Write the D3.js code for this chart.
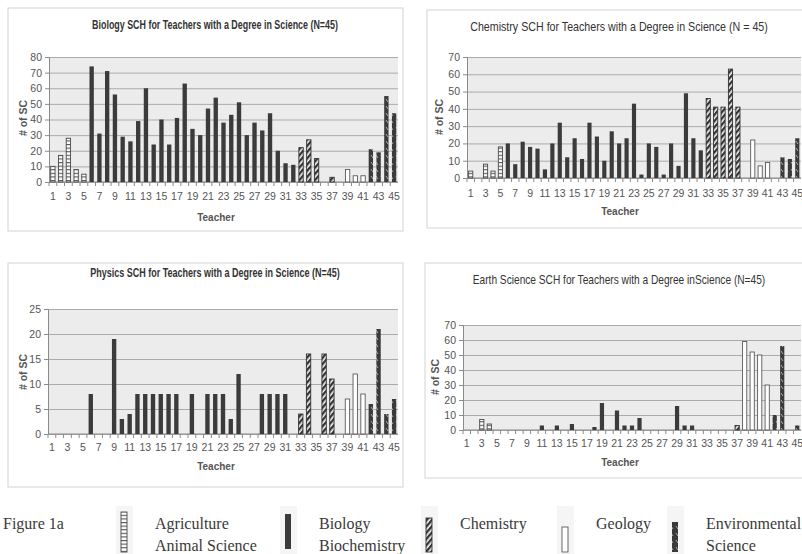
<!DOCTYPE html>
<html>
<head>
<meta charset="utf-8">
<script src="https://cdn.jsdelivr.net/npm/d3@7"></script>
<style>
  html, body { margin: 0; padding: 0; background: #fff; }
  svg { display: block; font-family: "Liberation Sans", Arial, sans-serif; }
</style>
</head>
<body>
<div id="chart"></div>
<script>
// teachers 1..45 and their degree group
const teachers = [1,2,3,4,5,6,7,8,9,10,11,12,13,14,15,16,17,18,19,20,21,22,23,24,25,26,27,28,29,30,31,32,33,34,35,36,37,38,39,40,41,42,43,44,45];
const degree = ["ag","ag","ag","ag","ag",
  "bio","bio","bio","bio","bio","bio","bio","bio","bio","bio","bio","bio","bio","bio","bio","bio","bio","bio","bio","bio","bio","bio","bio","bio","bio","bio","bio",
  "chem","chem","chem","chem","chem",
  "geo","geo","geo","geo",
  "env","env","env","env"];
const xLabels = [1,3,5,7,9,11,13,15,17,19,21,23,25,27,29,31,33,35,37,39,41,43,45];

// semester credit hours per teacher
const biologySCH   = [10,17,28,8,5, 74,31,71,56,29, 26,39,60,24,40, 24,41,63,34,30, 47,54,38,43,51, 30,38,33,44,20, 12,11,22,27,15, 0,3,0,8,4, 4,21,19,55,44];
const chemistrySCH = [4,0,8,4,18, 20,8,21,18,17, 5,20,32,12,23, 11,32,24,10,27, 20,23,43,2,20, 18,2,20,7,49, 23,16,46,41,41, 63,41,0,22,7, 9,0,12,11,23];
const physicsSCH   = [0,0,0,0,0, 8,0,0,19,3, 4,8,8,8,8, 8,8,0,8,0, 8,8,8,3,12, 0,0,8,8,8, 8,0,4,16,0, 16,11,0,7,12, 8,6,21,4,7];
const earthSCH     = [0,0,7,4,0, 0,0,0,0,0, 3,0,3,0,4, 0,0,2,18,0, 13,3,3,8,0, 0,0,0,16,3, 3,0,0,0,0, 0,3,59,52,50, 30,10,56,0,3];

const ticks80 = [0,10,20,30,40,50,60,70,80];
const ticks70 = [0,10,20,30,40,50,60,70];
const ticks25 = [0,5,10,15,20,25];

const legendItems = [
  { key: "ag",   lines: ["Agriculture", "Animal Science"] },
  { key: "bio",  lines: ["Biology", "Biochemistry"] },
  { key: "chem", lines: ["Chemistry"] },
  { key: "geo",  lines: ["Geology"] },
  { key: "env",  lines: ["Environmental", "Science"] }
];

const width = 802, height = 554;
const svg = d3.select("#chart").append("svg")
  .attr("width", width)
  .attr("height", height);

// bar patterns
const defs = svg.append("defs");
const ag = defs.append("pattern").attr("id", "p-ag")
  .attr("patternUnits", "userSpaceOnUse").attr("width", 6).attr("height", 3.6);
ag.append("rect").attr("width", 6).attr("height", 3.6).attr("fill", "#fff");
ag.append("rect").attr("width", 6).attr("height", 1.1).attr("fill", "#555");

const chem = defs.append("pattern").attr("id", "p-chem")
  .attr("patternUnits", "userSpaceOnUse").attr("width", 4).attr("height", 4)
  .attr("patternTransform", "rotate(40)");
chem.append("rect").attr("width", 4).attr("height", 4).attr("fill", "#f4f4f4");
chem.append("rect").attr("width", 2.3).attr("height", 4).attr("fill", "#333");

const env = defs.append("pattern").attr("id", "p-env")
  .attr("patternUnits", "userSpaceOnUse").attr("width", 5).attr("height", 7);
env.append("rect").attr("width", 5).attr("height", 7).attr("fill", "#3a3a3a");
env.append("line").attr("x1", 1).attr("y1", 1).attr("x2", 3).attr("y2", 4)
  .attr("stroke", "#b5b5b5").attr("stroke-width", 0.9);

const fillFor = {
  ag: "url(#p-ag)", bio: "#3b3b3b", chem: "url(#p-chem)", geo: "#ffffff", env: "url(#p-env)"
};
const strokeFor = { ag: "#4a4a4a", bio: "none", chem: "#333", geo: "#5a5a5a", env: "none" };

const panels = [
  { title: "Biology SCH for Teachers with a Degree in Science (N=45)", bold: true, titleW: 246, titleX: 215,
    values: biologySCH, ticks: ticks80, box: [8, 8, 395, 223],
    left: 49, right: 398, top: 57, bottom: 182, titleY: 29, yLabX: 27, yLabY: 118, xLabY: 200, teacherY: 221 },
  { title: "Chemistry SCH for Teachers with a Degree in Science (N = 45)", bold: false, titleW: 298, titleX: 619,
    values: chemistrySCH, ticks: ticks70, box: [427, 10, 420, 218],
    left: 467, right: 801, top: 57, bottom: 178, titleY: 31, yLabX: 443, yLabY: 117, xLabY: 197, teacherY: 215 },
  { title: "Physics SCH for Teachers with a Degree in Science (N=45)", bold: true, titleW: 250, titleX: 215,
    values: physicsSCH, ticks: ticks25, box: [8, 263, 395, 224],
    left: 48, right: 398, top: 309, bottom: 434, titleY: 277, yLabX: 27, yLabY: 372, xLabY: 451, teacherY: 470 },
  { title: "Earth Science SCH for Teachers with a Degree inScience (N=45)", bold: false, titleW: 293, titleX: 619,
    values: earthSCH, ticks: ticks70, box: [425, 263, 420, 215],
    left: 463, right: 801, top: 325, bottom: 430, titleY: 284, yLabX: 439, yLabY: 377, xLabY: 447, teacherY: 466 }
];

panels.forEach(p => {
  const g = svg.append("g");
  const data = teachers.map((t, i) => ({ t: t, v: p.values[i], k: degree[i] }));

  g.append("rect")
    .attr("x", p.box[0]).attr("y", p.box[1])
    .attr("width", p.box[2]).attr("height", p.box[3])
    .attr("fill", "#fff").attr("stroke", "#d4d4d4");

  const x = d3.scaleBand().domain(teachers)
    .range([p.left, p.right]).paddingInner(0.44).paddingOuter(0.22);
  const y = d3.scaleLinear().domain([0, d3.max(p.ticks)]).range([p.bottom, p.top]);

  // plot area
  g.append("rect")
    .attr("x", p.left).attr("y", p.top)
    .attr("width", p.right - p.left).attr("height", p.bottom - p.top)
    .attr("fill", "#ececec");

  // grid
  g.append("g")
    .attr("transform", `translate(${p.left},0)`)
    .call(d3.axisLeft(y).tickValues(p.ticks).tickSize(-(p.right - p.left)).tickFormat(""))
    .call(s => s.select(".domain").remove())
    .selectAll("line").attr("stroke", "#ababab");

  // y axis
  const ya = g.append("g")
    .attr("transform", `translate(${p.left},0)`)
    .call(d3.axisLeft(y).tickValues(p.ticks).tickSize(4).tickPadding(3));
  ya.select(".domain").attr("stroke", "#8a8a8a");
  ya.selectAll(".tick line").attr("stroke", "#8a8a8a");
  ya.selectAll("text").attr("fill", "#555").attr("font-size", "10.5px")
    .attr("font-family", "Liberation Sans, Arial, sans-serif");

  // x baseline + tick marks between categories
  g.append("line")
    .attr("x1", p.left).attr("x2", p.right)
    .attr("y1", y(0)).attr("y2", y(0))
    .attr("stroke", "#8a8a8a");
  g.selectAll(".xtick").data(teachers).join("line")
    .attr("x1", d => x(d) + x.bandwidth() / 2 - x.step() / 2)
    .attr("x2", d => x(d) + x.bandwidth() / 2 - x.step() / 2)
    .attr("y1", y(0)).attr("y2", y(0) + 4)
    .attr("stroke", "#8a8a8a");

  g.selectAll(".xlab").data(xLabels).join("text")
    .attr("x", d => x(d) + x.bandwidth() / 2)
    .attr("y", p.xLabY)
    .attr("text-anchor", "middle")
    .attr("font-size", "10.5px")
    .attr("fill", "#555")
    .text(d => d);

  // bars
  g.selectAll(".bar").data(data.filter(d => d.v > 0)).join("rect")
    .attr("x", d => x(d.t))
    .attr("y", d => y(d.v))
    .attr("width", x.bandwidth())
    .attr("height", d => y(0) - y(d.v))
    .attr("fill", d => fillFor[d.k])
    .attr("stroke", d => strokeFor[d.k])
    .attr("stroke-width", 0.9);

  // title, squeezed horizontally like the scan
  const tg = g.append("g");
  const tt = tg.append("text")
    .attr("text-anchor", "middle")
    .attr("font-size", "12.5px")
    .attr("font-weight", p.bold ? "bold" : "normal")
    .attr("fill", "#333")
    .text(p.title);
  const sx = p.titleW / tt.node().getComputedTextLength();
  tg.attr("transform", `translate(${p.titleX},${p.titleY}) scale(${sx},1)`);

  g.append("text")
    .attr("transform", `translate(${p.yLabX},${p.yLabY}) rotate(-90)`)
    .attr("text-anchor", "middle")
    .attr("font-size", "10.5px")
    .attr("font-weight", "bold")
    .attr("fill", "#555")
    .text("# of SC");

  g.append("text")
    .attr("x", p.titleX + 1)
    .attr("y", p.teacherY)
    .attr("text-anchor", "middle")
    .attr("font-size", "10px")
    .attr("font-weight", "bold")
    .attr("fill", "#555")
    .text("Teacher");
});

// legend
const legend = svg.append("g")
  .attr("font-family", "Liberation Serif, Times New Roman, serif")
  .attr("font-size", "16px")
  .attr("fill", "#3a3a3a");

legend.append("text").attr("x", 3).attr("y", 529).text("Figure 1a");

const legendX = [121, 285, 426, 562, 672];
const swatchTop = [512, 514, 518, 527, 522];
const swatchBottom = [552, 549, 552, 552, 552];
legendItems.forEach((item, i) => {
  legend.append("rect")
    .attr("x", legendX[i] - 5).attr("y", 506)
    .attr("width", 17).attr("height", 48)
    .attr("fill", "#f5f5f5");
  legend.append("rect")
    .attr("x", legendX[i]).attr("y", swatchTop[i])
    .attr("width", 6).attr("height", swatchBottom[i] - swatchTop[i])
    .attr("fill", fillFor[item.key])
    .attr("stroke", strokeFor[item.key])
    .attr("stroke-width", 0.9);
  item.lines.forEach((line, j) => {
    legend.append("text")
      .attr("x", legendX[i] + 34)
      .attr("y", 529 + j * 22)
      .text(line);
  });
});
</script>
</body>
</html>
